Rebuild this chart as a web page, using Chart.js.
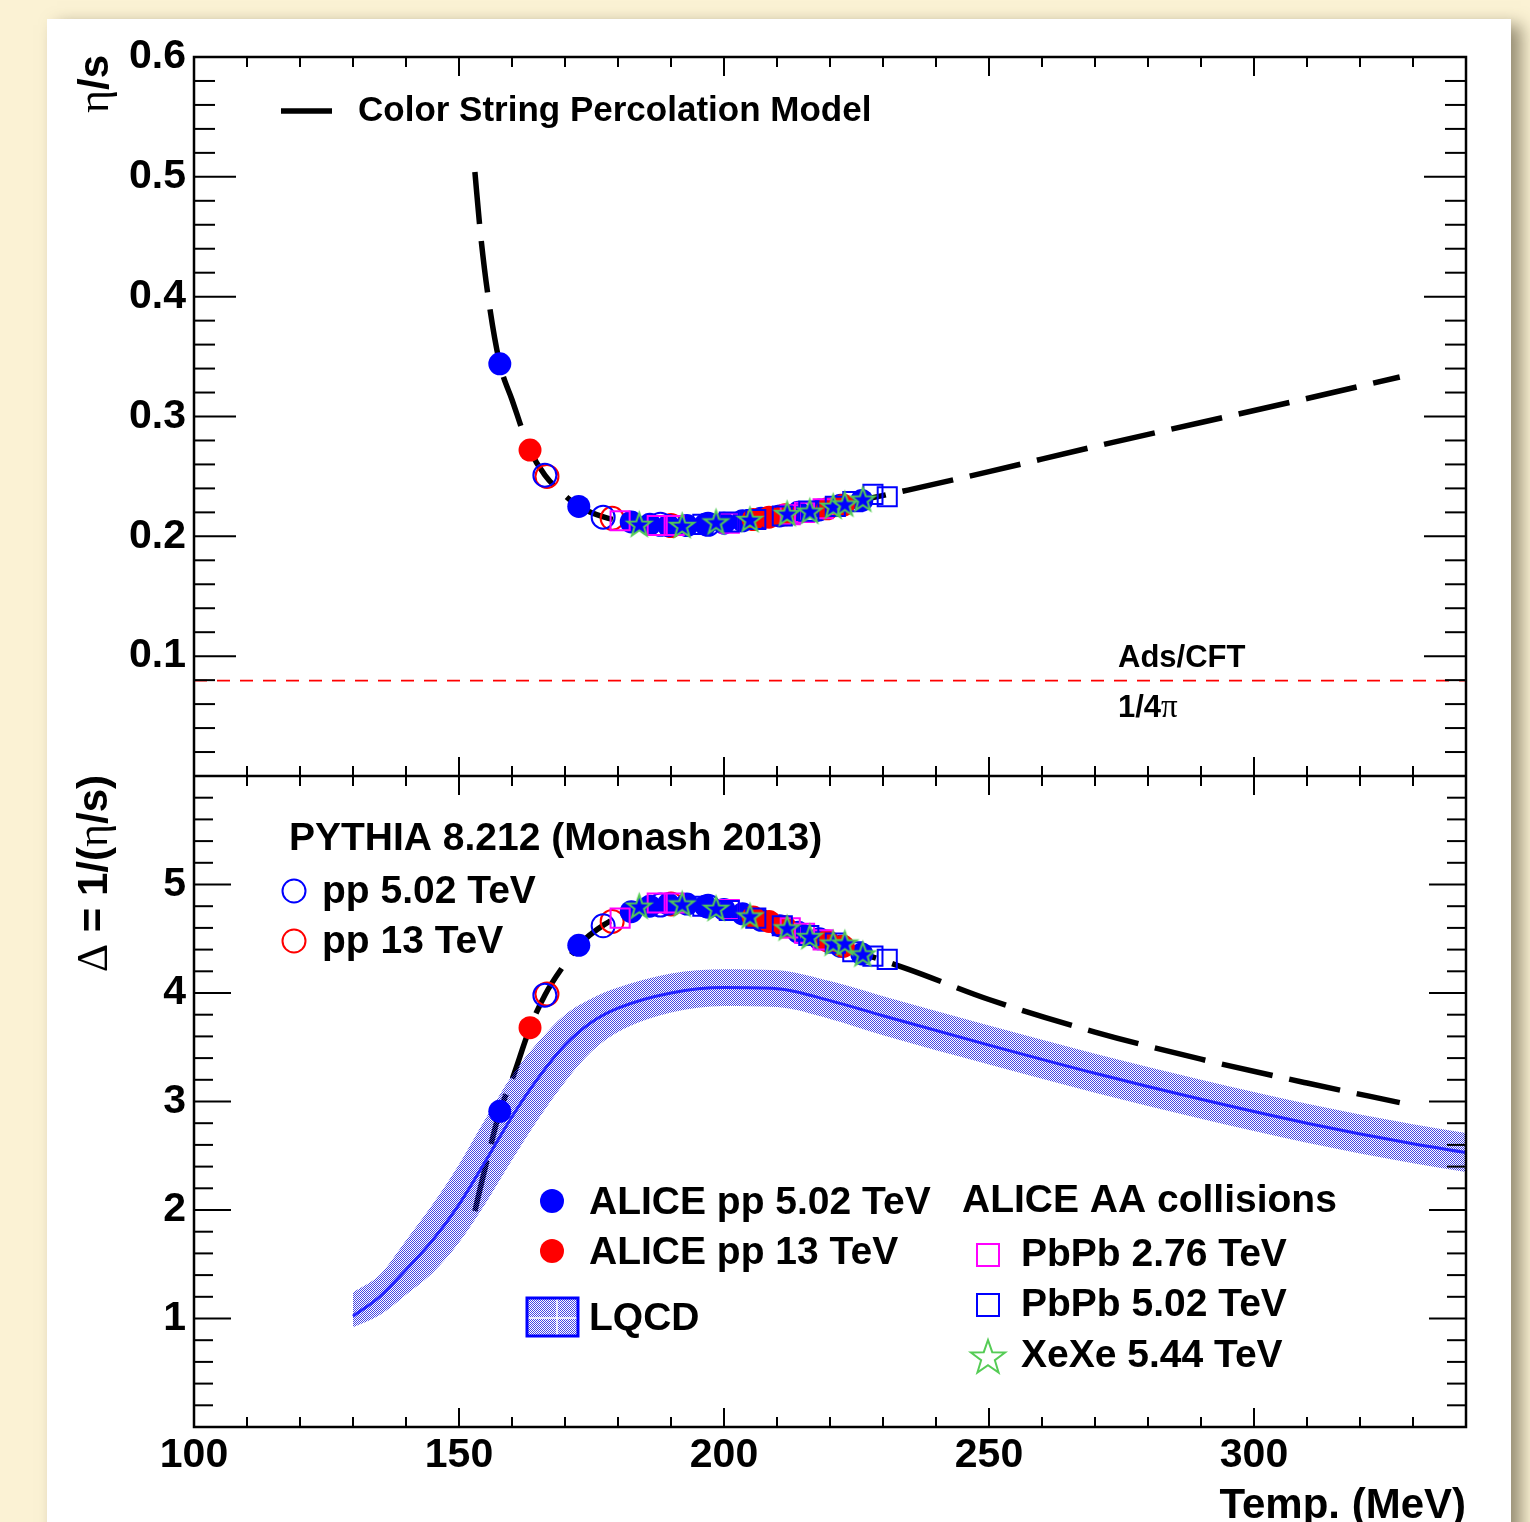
<!DOCTYPE html>
<html><head><meta charset="utf-8">
<script src="https://cdn.jsdelivr.net/npm/chart.js@4/dist/chart.umd.min.js"></script>
<style>
html,body{margin:0;padding:0;width:1530px;height:1522px;overflow:hidden;background:#fbf2d4;}
#panel{position:absolute;left:47px;top:19px;width:1464px;height:1580px;background:#fff;box-shadow:10px 6px 16px rgba(80,72,48,0.6);}
#c{position:absolute;left:0;top:0;}
</style></head><body>
<div id="panel"></div>
<canvas id="c" width="1530" height="1522"></canvas>
<script>
// ---------------- data ----------------
const xTickLabels = [100, 150, 200, 250, 300];
const etaTickLabels = [0.1, 0.2, 0.3, 0.4, 0.5, 0.6];
const deltaTickLabels = [1, 2, 3, 4, 5];

// Color String Percolation Model curve
const cspmT     = [153, 154, 155.5, 157.7, 160, 163.4, 166.2, 170, 172.6, 177.4, 182, 190, 200, 210, 220, 234.7, 250, 270, 290, 310, 327.5];
const cspmEtaS  = [0.504, 0.455, 0.400, 0.344, 0.314, 0.272, 0.251, 0.234, 0.225, 0.216, 0.212, 0.209, 0.211, 0.217, 0.225, 0.2386, 0.254, 0.275, 0.295, 0.315, 0.333];
const cspmDelta = [1.99, 2.20, 2.50, 2.91, 3.20, 3.68, 3.98, 4.27, 4.44, 4.63, 4.74, 4.81, 4.76, 4.62, 4.46, 4.22, 3.94, 3.64, 3.39, 3.17, 2.99];

// AdS/CFT bound 1/4pi
const adsT   = [100, 340];
const adsEta = [0.0796, 0.0796];

// ALICE pp 5.02 TeV (filled blue circles)
const alice502T     = [157.7, 172.6, 182.5, 186, 189.5, 193, 196.5, 200, 203.5, 207, 210.5, 214, 218, 222, 226];
const alice502EtaS  = [0.344, 0.225, 0.212, 0.210, 0.209, 0.209, 0.210, 0.211, 0.213, 0.215, 0.217, 0.220, 0.222, 0.226, 0.230];
const alice502Delta = [2.91, 4.44, 4.75, 4.80, 4.82, 4.82, 4.80, 4.77, 4.73, 4.67, 4.62, 4.56, 4.50, 4.43, 4.36];

// ALICE pp 13 TeV (filled red circles)
const alice13T     = [163.4, 205.5, 208.5, 211.5, 219.5, 222.5];
const alice13EtaS  = [0.272, 0.214, 0.216, 0.218, 0.223, 0.226];
const alice13Delta = [3.68, 4.70, 4.66, 4.61, 4.48, 4.43];

// PYTHIA pp 5.02 TeV (open blue circles)
const pythia502T     = [166.2, 177.2, 188, 197];
const pythia502EtaS  = [0.251, 0.216, 0.210, 0.210];
const pythia502Delta = [3.98, 4.62, 4.81, 4.80];

// PYTHIA pp 13 TeV (open red circles)
const pythia13T     = [166.6, 178.9, 190];
const pythia13EtaS  = [0.250, 0.215, 0.209];
const pythia13Delta = [3.99, 4.66, 4.82];

// PbPb 2.76 TeV (open magenta squares)
const pbpb276T     = [180.4, 187.4, 190.6, 201, 212.5, 215.2, 218.7];
const pbpb276EtaS  = [0.213, 0.209, 0.209, 0.211, 0.218, 0.220, 0.223];
const pbpb276Delta = [4.69, 4.83, 4.83, 4.77, 4.60, 4.55, 4.49];

// PbPb 5.02 TeV (open blue squares)
const pbpb502T     = [196, 201, 206, 211, 216, 221, 224.3, 228.1, 230.8];
const pbpb502EtaS  = [0.210, 0.212, 0.214, 0.217, 0.221, 0.225, 0.229, 0.235, 0.233];
const pbpb502Delta = [4.80, 4.76, 4.69, 4.62, 4.53, 4.46, 4.38, 4.34, 4.31];

// XeXe 5.44 TeV (open green stars)
const xexeT     = [184, 192.1, 198.5, 204.9, 211.9, 216.2, 220.6, 222.8, 226.2];
const xexeEtaS  = [0.210, 0.209, 0.212, 0.214, 0.219, 0.221, 0.225, 0.227, 0.231];
const xexeDelta = [4.80, 4.82, 4.78, 4.71, 4.60, 4.52, 4.46, 4.46, 4.36];

// LQCD band
const lqcdT      = [130, 135, 140, 145, 150, 155, 160, 165, 170, 175, 180, 190, 200, 210, 220, 230, 250, 270, 290, 310, 330, 340];
const lqcdCenter = [1.02, 1.20, 1.45, 1.72, 2.05, 2.45, 2.86, 3.22, 3.52, 3.73, 3.86, 4.00, 4.05, 4.04, 3.93, 3.79, 3.52, 3.26, 3.02, 2.80, 2.61, 2.53];
const lqcdUpper  = [1.24, 1.40, 1.72, 2.05, 2.42, 2.84, 3.24, 3.55, 3.80, 3.95, 4.05, 4.18, 4.22, 4.21, 4.11, 3.97, 3.70, 3.44, 3.20, 2.98, 2.79, 2.71];
const lqcdLower  = [0.92, 1.03, 1.22, 1.42, 1.70, 2.06, 2.46, 2.84, 3.18, 3.46, 3.64, 3.82, 3.88, 3.87, 3.76, 3.61, 3.34, 3.08, 2.84, 2.62, 2.43, 2.35];

// ---------------- helpers ----------------
const SANS = '"Liberation Sans", Arial, Helvetica, sans-serif';
const SERIF = '"Liberation Serif", "DejaVu Serif", serif';
const BLUE = '#0000ff', RED = '#ff0000', MAG = '#ff00ff', GREEN = '#55cc55';
const pts = (xs, ys) => xs.map((x, i) => ({x: x, y: ys[i]}));

function starPath(ctx, cx, cy, R, r) {
  ctx.beginPath();
  for (let i = 0; i < 10; i++) {
    const a = -Math.PI / 2 + i * Math.PI / 5;
    const rad = (i % 2) ? r : R;
    ctx.lineTo(cx + rad * Math.cos(a), cy + rad * Math.sin(a));
  }
  ctx.closePath();
}
function makeStar(R, fill) {
  const c = document.createElement('canvas');
  const s = Math.ceil(2 * R + 6);
  c.width = s; c.height = s;
  const g = c.getContext('2d');
  starPath(g, s / 2, s / 2 + 1, R, R * 0.4);
  if (fill) { g.fillStyle = fill; g.fill(); }
  g.strokeStyle = GREEN; g.lineWidth = 2; g.stroke();
  return c;
}
const dataStar = makeStar(12.5, BLUE);

const canvas = document.getElementById('c');
const mainCtx = canvas.getContext('2d');
const pc = document.createElement('canvas');
pc.width = 2; pc.height = 2;
const pg = pc.getContext('2d');
pg.fillStyle = 'rgba(50,50,225,0.9)';
pg.fillRect(0, 0, 1, 1); pg.fillRect(1, 1, 1, 1);
const hatch = mainCtx.createPattern(pc, 'repeat');

function markers(label, xs, ys, axis, style, order) {
  return Object.assign({label: label, data: pts(xs, ys), yAxisID: axis, showLine: false, order: order}, style);
}
const filledBlue = {pointStyle: 'circle', pointRadius: 11.5, backgroundColor: BLUE, borderColor: BLUE, borderWidth: 0};
const filledRed  = {pointStyle: 'circle', pointRadius: 11.5, backgroundColor: RED, borderColor: RED, borderWidth: 0};
const openBlue   = {pointStyle: 'circle', pointRadius: 11.5, backgroundColor: 'rgba(0,0,0,0)', borderColor: BLUE, borderWidth: 2};
const openRed    = {pointStyle: 'circle', pointRadius: 11.5, backgroundColor: 'rgba(0,0,0,0)', borderColor: RED, borderWidth: 2};
const sqMag      = {pointStyle: 'rect', pointRadius: 13.5, backgroundColor: 'rgba(0,0,0,0)', borderColor: MAG, borderWidth: 2};
const sqBlue     = {pointStyle: 'rect', pointRadius: 13.5, backgroundColor: 'rgba(0,0,0,0)', borderColor: BLUE, borderWidth: 2};
const starSt     = {pointStyle: dataStar, pointRadius: 13};

const datasets = [
  // ---- top panel ----
  {label: 'CSPM eta/s', data: pts(cspmT, cspmEtaS), yAxisID: 'yTop', showLine: true, borderColor: '#000', borderWidth: 5.5,
   borderDash: [52, 17], pointRadius: 0, cubicInterpolationMode: 'monotone', fill: false, order: 50},
  {label: 'AdS/CFT', data: pts(adsT, adsEta), yAxisID: 'yTop', showLine: true, borderColor: RED, borderWidth: 1.6,
   borderDash: [13, 10], pointRadius: 0, fill: false, order: 60},
  markers('ALICE pp 5.02 top', alice502T, alice502EtaS, 'yTop', filledBlue, 15),
  markers('ALICE pp 13 top', alice13T, alice13EtaS, 'yTop', filledRed, 14),
  markers('PYTHIA 13 top', pythia13T, pythia13EtaS, 'yTop', openRed, 17),
  markers('PYTHIA 5.02 top', pythia502T, pythia502EtaS, 'yTop', openBlue, 16),
  markers('PbPb 2.76 top', pbpb276T, pbpb276EtaS, 'yTop', sqMag, 13),
  markers('PbPb 5.02 top', pbpb502T, pbpb502EtaS, 'yTop', sqBlue, 12),
  markers('XeXe top', xexeT, xexeEtaS, 'yTop', starSt, 11),
  // ---- bottom panel ----
  {label: 'LQCD lower', data: pts(lqcdT, lqcdLower), yAxisID: 'yBot', showLine: true, borderWidth: 0, borderColor: 'rgba(0,0,0,0)',
   pointRadius: 0, cubicInterpolationMode: 'monotone', fill: false, order: 45},
  {label: 'LQCD upper', data: pts(lqcdT, lqcdUpper), yAxisID: 'yBot', showLine: true, borderWidth: 0, borderColor: 'rgba(0,0,0,0)',
   pointRadius: 0, cubicInterpolationMode: 'monotone', fill: '-1', backgroundColor: hatch, order: 44},
  {label: 'LQCD', data: pts(lqcdT, lqcdCenter), yAxisID: 'yBot', showLine: true, borderWidth: 3, borderColor: '#2424ff',
   pointRadius: 0, cubicInterpolationMode: 'monotone', fill: false, order: 40},
  {label: 'CSPM Delta', data: pts(cspmT, cspmDelta), yAxisID: 'yBot', showLine: true, borderColor: '#000', borderWidth: 5.5,
   borderDash: [52, 17], pointRadius: 0, cubicInterpolationMode: 'monotone', fill: false, order: 50},
  markers('ALICE pp 5.02 bot', alice502T, alice502Delta, 'yBot', filledBlue, 15),
  markers('ALICE pp 13 bot', alice13T, alice13Delta, 'yBot', filledRed, 14),
  markers('PYTHIA 13 bot', pythia13T, pythia13Delta, 'yBot', openRed, 17),
  markers('PYTHIA 5.02 bot', pythia502T, pythia502Delta, 'yBot', openBlue, 16),
  markers('PbPb 2.76 bot', pbpb276T, pbpb276Delta, 'yBot', sqMag, 13),
  markers('PbPb 5.02 bot', pbpb502T, pbpb502Delta, 'yBot', sqBlue, 12),
  markers('XeXe bot', xexeT, xexeDelta, 'yBot', starSt, 11)
];

function line(ctx, x1, y1, x2, y2) { ctx.beginPath(); ctx.moveTo(x1, y1); ctx.lineTo(x2, y2); ctx.stroke(); }
function txt(ctx, s, x, y, size, weight, family, align) {
  ctx.font = (weight || 'bold') + ' ' + size + 'px ' + (family || SANS);
  ctx.textAlign = align || 'left';
  ctx.textBaseline = 'alphabetic';
  ctx.fillStyle = '#000';
  ctx.fillText(s, x, y);
}
// mixed font runs, drawn left to right starting at x (or ending at x if alignRight)
function runs(ctx, parts, x, y, alignRight) {
  let total = 0;
  parts.forEach(p => { ctx.font = p.f; p.w = ctx.measureText(p.t).width; total += p.w; });
  let cx = alignRight ? x - total : x;
  parts.forEach(p => { ctx.font = p.f; ctx.textAlign = 'left'; ctx.textBaseline = 'alphabetic'; ctx.fillStyle = '#000'; ctx.fillText(p.t, cx, y); cx += p.w; });
}

const framePlugin = {
  id: 'rootFrame',
  afterDatasetsDraw(chart) {
    const ctx = chart.ctx;
    const xs = chart.scales.x, yt = chart.scales.yTop, yb = chart.scales.yBot;
    const ca = chart.chartArea;
    const L = ca.left, R = ca.right;
    const T = ca.top, M = yt.bottom, B = ca.bottom;
    ctx.save();
    ctx.strokeStyle = '#000';
    ctx.lineWidth = 2.5;
    ctx.strokeRect(L, T, R - L, B - T);
    line(ctx, L, M, R, M);
    ctx.lineWidth = 2;
    for (let v = 110; v < 340; v += 10) {
      const px = xs.getPixelForValue(v);
      const len = (v % 50 === 0) ? 19 : 10;
      line(ctx, px, T, px, T + len);
      line(ctx, px, M - len, px, M + len);
      line(ctx, px, B - len, px, B);
    }
    for (let k = 1; k < 30; k++) {
      const v = k * 0.02, py = yt.getPixelForValue(v);
      const len = (k % 5 === 0) ? 42 : 21;
      line(ctx, L, py, L + len, py);
      line(ctx, R - len, py, R, py);
    }
    for (let k = 1; k < 30; k++) {
      const v = k * 0.2, py = yb.getPixelForValue(v);
      const len = (k % 5 === 0) ? 37 : 19;
      line(ctx, L, py, L + len, py);
      line(ctx, R - len, py, R, py);
    }
    ctx.restore();
  },
  afterDraw(chart) {
    const ctx = chart.ctx;
    ctx.save();
    // axis titles
    ctx.save();
    ctx.translate(108, 55); ctx.rotate(-Math.PI / 2);
    runs(ctx, [{t: 'η', f: 'normal 44px ' + SERIF}, {t: '/s', f: 'bold 42px ' + SANS}], 0, 0, true);
    ctx.restore();
    ctx.save();
    ctx.translate(107, 775); ctx.rotate(-Math.PI / 2);
    runs(ctx, [{t: 'Δ', f: 'normal 44px ' + SERIF}, {t: ' = 1/(', f: 'bold 42px ' + SANS},
               {t: 'η', f: 'normal 44px ' + SERIF}, {t: '/s)', f: 'bold 42px ' + SANS}], 0, 0, true);
    ctx.restore();
    txt(ctx, 'Temp. (MeV)', 1466, 1518, 42, 'bold', SANS, 'right');

    // CSPM legend
    ctx.strokeStyle = '#000'; ctx.lineWidth = 5.5;
    line(ctx, 281, 111, 332, 111);
    txt(ctx, 'Color String Percolation Model', 358, 121, 35);

    // AdS/CFT label
    txt(ctx, 'Ads/CFT', 1118, 667, 31);
    runs(ctx, [{t: '1/4', f: 'bold 31px ' + SANS}, {t: 'π', f: 'normal 33px ' + SERIF}], 1118, 717, false);

    // PYTHIA legend
    txt(ctx, 'PYTHIA 8.212 (Monash 2013)', 289, 850, 39);
    ctx.lineWidth = 2;
    ctx.strokeStyle = BLUE; ctx.beginPath(); ctx.arc(294, 891, 11.5, 0, 2 * Math.PI); ctx.stroke();
    ctx.strokeStyle = RED; ctx.beginPath(); ctx.arc(294, 941, 11.5, 0, 2 * Math.PI); ctx.stroke();
    txt(ctx, 'pp 5.02 TeV', 322, 903, 39);
    txt(ctx, 'pp 13 TeV', 322, 953, 39);

    // ALICE pp legend
    ctx.fillStyle = BLUE; ctx.beginPath(); ctx.arc(552, 1201, 12, 0, 2 * Math.PI); ctx.fill();
    ctx.fillStyle = RED; ctx.beginPath(); ctx.arc(552, 1251, 12, 0, 2 * Math.PI); ctx.fill();
    txt(ctx, 'ALICE pp 5.02 TeV', 589, 1214, 39);
    txt(ctx, 'ALICE pp 13 TeV', 589, 1264, 39);
    // LQCD legend box
    ctx.fillStyle = hatch; ctx.fillRect(527, 1298, 51, 38);
    ctx.strokeStyle = '#fff'; ctx.lineWidth = 1.5;
    line(ctx, 557, 1299, 557, 1335); line(ctx, 528, 1318, 577, 1318);
    ctx.strokeStyle = BLUE; ctx.lineWidth = 3; ctx.strokeRect(527, 1298, 51, 38);
    txt(ctx, 'LQCD', 589, 1330, 39);

    // ALICE AA legend
    txt(ctx, 'ALICE AA collisions', 962, 1212, 39);
    ctx.lineWidth = 2;
    ctx.strokeStyle = MAG; ctx.strokeRect(977, 1244, 22, 22);
    ctx.strokeStyle = BLUE; ctx.strokeRect(977, 1294, 22, 22);
    starPath(ctx, 988, 1358, 18, 7.2); ctx.strokeStyle = GREEN; ctx.lineWidth = 2; ctx.stroke();
    txt(ctx, 'PbPb 2.76 TeV', 1021, 1266, 39);
    txt(ctx, 'PbPb 5.02 TeV', 1021, 1316, 39);
    txt(ctx, 'XeXe 5.44 TeV', 1021, 1367, 39);
    ctx.restore();
  }
};

const tickFont = {family: SANS, size: 41, weight: 'bold'};
new Chart(mainCtx, {
  type: 'scatter',
  data: {datasets: datasets},
  options: {
    responsive: false,
    animation: false,
    events: [],
    devicePixelRatio: 1,
    layout: {padding: {left: 0, top: 57, right: 64, bottom: 0}},
    plugins: {legend: {display: false}, tooltip: {enabled: false}},
    scales: {
      x: {
        type: 'linear', position: 'bottom', min: 100, max: 340,
        afterFit(s) { s.height = 95; },
        grid: {display: false, drawTicks: false}, border: {display: false},
        ticks: {stepSize: 50, includeBounds: false, autoSkip: false, maxRotation: 0, color: '#000', font: tickFont, padding: 4,
          callback: v => xTickLabels.includes(v) ? String(v) : ''}
      },
      yBot: {
        type: 'linear', position: 'left', stack: 'panels', stackWeight: 651, min: 0, max: 6,
        afterFit(s) { s.width = 194; },
        grid: {display: false, drawTicks: false}, border: {display: false},
        ticks: {stepSize: 1, includeBounds: false, autoSkip: false, color: '#000', font: tickFont, padding: 8,
          callback: v => deltaTickLabels.some(t => Math.abs(t - v) < 1e-6) ? String(Math.round(v)) : ''}
      },
      yTop: {
        type: 'linear', position: 'left', stack: 'panels', stackWeight: 719, min: 0, max: 0.6,
        afterFit(s) { s.width = 194; },
        grid: {display: false, drawTicks: false}, border: {display: false},
        ticks: {stepSize: 0.1, includeBounds: false, autoSkip: false, color: '#000', font: tickFont, padding: 8,
          callback: v => etaTickLabels.some(t => Math.abs(t - v) < 1e-6) ? v.toFixed(1) : ''}
      }
    }
  },
  plugins: [framePlugin]
});
</script>
</body></html>
